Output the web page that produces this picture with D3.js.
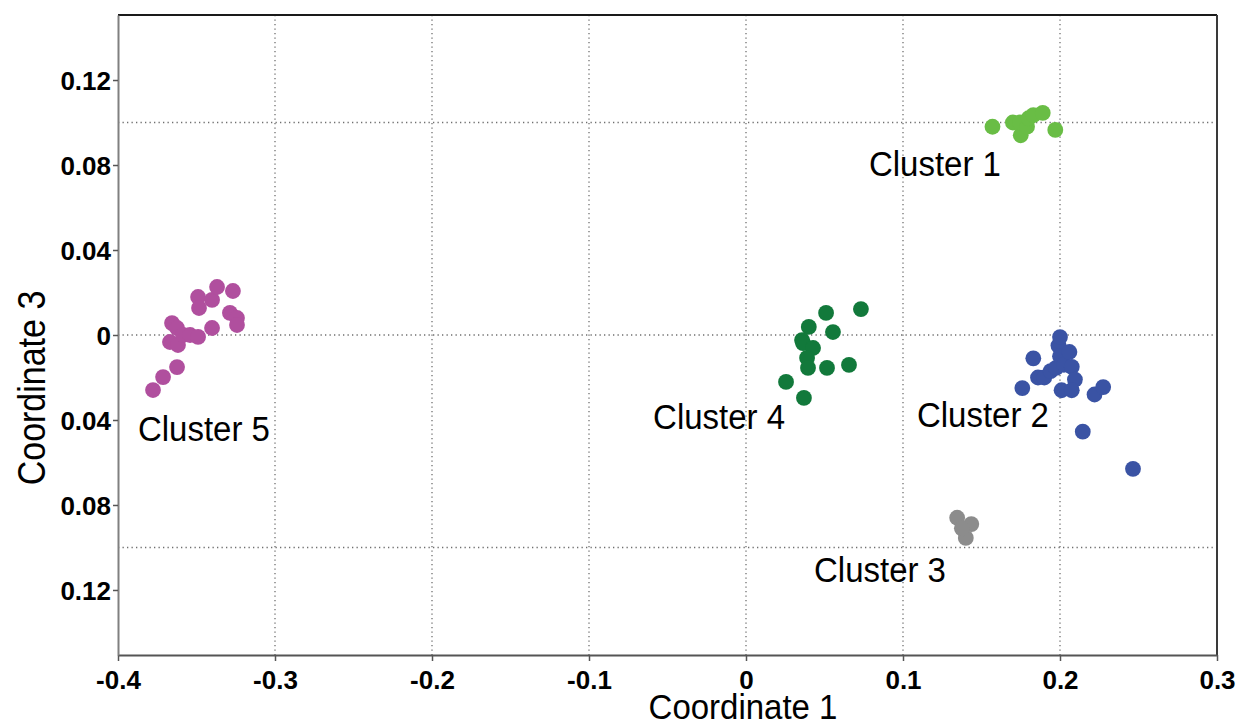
<!DOCTYPE html>
<html>
<head>
<meta charset="utf-8">
<script src="https://cdn.jsdelivr.net/npm/d3@7"></script>
<style>
  html, body { margin: 0; padding: 0; background: #fff; }
  svg { display: block; }
</style>
</head>
<body>
<svg id="chart" width="1237" height="725"></svg>
<script>
// ---------- DATA ----------
const clusterNames = ["Cluster 1", "Cluster 2", "Cluster 3", "Cluster 4", "Cluster 5"];
const clusterColors = ["#69bd45", "#3a53a4", "#8c8c8c", "#12793b", "#b04f9e"];

const cluster1 = [[0.157,0.098],[0.170,0.100],[0.175,0.094],[0.1745,0.100],[0.179,0.098],[0.180,0.102],[0.183,0.1035],[0.189,0.1045],[0.197,0.0965]];
const cluster2 = [[0.176,-0.025],[0.183,-0.011],[0.186,-0.020],[0.190,-0.020],[0.194,-0.017],[0.1975,-0.0155],[0.199,-0.005],[0.200,-0.001],[0.200,-0.010],[0.2025,-0.014],[0.206,-0.008],[0.2075,-0.015],[0.2095,-0.021],[0.201,-0.026],[0.2075,-0.026],[0.222,-0.028],[0.2275,-0.0245],[0.2145,-0.0455],[0.2465,-0.063]];
const cluster3 = [[0.1345,-0.086],[0.1435,-0.089],[0.140,-0.0955],[0.1375,-0.091]];
const cluster4 = [[0.051,0.0104],[0.0732,0.0122],[0.040,0.0038],[0.0554,0.0014],[0.0357,-0.0024],[0.0363,-0.0038],[0.0427,-0.0061],[0.0389,-0.0108],[0.0395,-0.0155],[0.0516,-0.0155],[0.0656,-0.0141],[0.0255,-0.0221],[0.0369,-0.0296]];
const cluster5 = [[-0.3777,-0.0259],[-0.3713,-0.0198],[-0.3624,-0.0151],[-0.3656,0.0056],[-0.3669,-0.0033],[-0.3618,-0.0047],[-0.3624,0.0033],[-0.3586,0.0],[-0.3541,0.0],[-0.3490,-0.0009],[-0.3401,0.0033],[-0.3490,0.0179],[-0.3484,0.0127],[-0.3401,0.0165],[-0.3369,0.0226],[-0.3268,0.0207],[-0.3287,0.0104],[-0.3242,0.0080],[-0.3242,0.0047]];
const clusterPoints = [cluster1, cluster2, cluster3, cluster4, cluster5];

// label anchor (left, baseline) in data units
const labelX = [0.0783, 0.1089, 0.0433, -0.0592, -0.3873];
const labelY = [0.0748, -0.0433, -0.1162, -0.0442, -0.0499];

const xTicks = [-0.4, -0.3, -0.2, -0.1, 0, 0.1, 0.2, 0.3];
const xTickLabels = ["-0.4", "-0.3", "-0.2", "-0.1", "0", "0.1", "0.2", "0.3"];
const yTicks = [0.12, 0.08, 0.04, 0, -0.04, -0.08, -0.12];
const yTickLabels = ["0.12", "0.08", "0.04", "0", "0.04", "0.08", "0.12"];
const xGrid = [-0.3, -0.2, -0.1, 0, 0.1, 0.2];
const yGrid = [0.1, 0, -0.1];

const xTitle = "Coordinate 1";
const yTitle = "Coordinate 3";

// ---------- LAYOUT ----------
const L = 118, R = 1217, T = 15, B = 655;
const svg = d3.select("#chart");
const x = d3.scaleLinear().domain([-0.4, 0.3]).range([L, R]);
const y = d3.scaleLinear().domain([-0.1506, 0.1506]).range([B, T]);
const font = "'Liberation Sans', Arial, sans-serif";
const stretch = 1.08;

// grid
const grid = svg.append("g");
grid.selectAll("line.vg").data(xGrid).join("line")
  .attr("x1", d => x(d)).attr("x2", d => x(d))
  .attr("y1", T).attr("y2", B)
  .attr("stroke", "#6f6f6f").attr("stroke-width", 1.3)
  .attr("stroke-dasharray", "1.3,3.2");
grid.selectAll("line.hg").data(yGrid).join("line")
  .attr("x1", L).attr("x2", R)
  .attr("y1", d => y(d)).attr("y2", d => y(d))
  .attr("stroke", "#6f6f6f").attr("stroke-width", 1.3)
  .attr("stroke-dasharray", "1.3,3.2");

// frame
svg.append("line").attr("x1", L).attr("x2", R).attr("y1", T).attr("y2", T).attr("stroke", "#1a1a1a").attr("stroke-width", 2);
svg.append("line").attr("x1", R).attr("x2", R).attr("y1", T).attr("y2", B).attr("stroke", "#3a3a3a").attr("stroke-width", 2);

// axes
const xAxis = d3.axisBottom(x).tickValues(xTicks).tickFormat((d, i) => xTickLabels[i]).tickSize(6).tickSizeOuter(0);
const gx = svg.append("g").attr("transform", `translate(0,${B})`).call(xAxis);
gx.select(".domain").attr("stroke", "#555").attr("stroke-width", 2);
gx.selectAll(".tick line").attr("stroke", "#555").attr("stroke-width", 1.5);
gx.selectAll(".tick text").attr("font-family", font).attr("font-size", 26).attr("font-weight", "bold")
  .attr("fill", "#000").attr("dy", "0").attr("y", 34);

const yAxis = d3.axisLeft(y).tickValues(yTicks).tickFormat((d, i) => yTickLabels[i]).tickSize(5).tickSizeOuter(0);
const gy = svg.append("g").attr("transform", `translate(${L},0)`).call(yAxis);
gy.select(".domain").attr("stroke", "#808080").attr("stroke-width", 2);
gy.selectAll(".tick line").attr("stroke", "#555").attr("stroke-width", 1.5);
gy.selectAll(".tick text").attr("font-family", font).attr("font-size", 26).attr("font-weight", "bold")
  .attr("fill", "#000").attr("x", -7).attr("dy", "0.35em");

// points
clusterPoints.forEach((pts, ci) => {
  svg.append("g").selectAll("circle").data(pts).join("circle")
    .attr("cx", d => x(d[0])).attr("cy", d => y(d[1])).attr("r", 7.9)
    .attr("fill", clusterColors[ci]);
});

// cluster labels
svg.append("g").selectAll("text").data(clusterNames).join("text")
  .attr("transform", (d, i) => `translate(${x(labelX[i])},${y(labelY[i])}) scale(1,${stretch})`)
  .attr("font-family", font).attr("font-size", 33).attr("fill", "#000")
  .text(d => d);

// axis titles
svg.append("text").attr("transform", `translate(${x(0) - 3},719) scale(1,${stretch})`).attr("text-anchor", "middle")
  .attr("font-family", font).attr("font-size", 33).attr("fill", "#000").text(xTitle);
svg.append("text").attr("transform", `translate(45,388) rotate(-90) scale(1,1.15)`).attr("text-anchor", "middle")
  .attr("font-family", font).attr("font-size", 34).attr("fill", "#000").text(yTitle);
</script>
</body>
</html>
